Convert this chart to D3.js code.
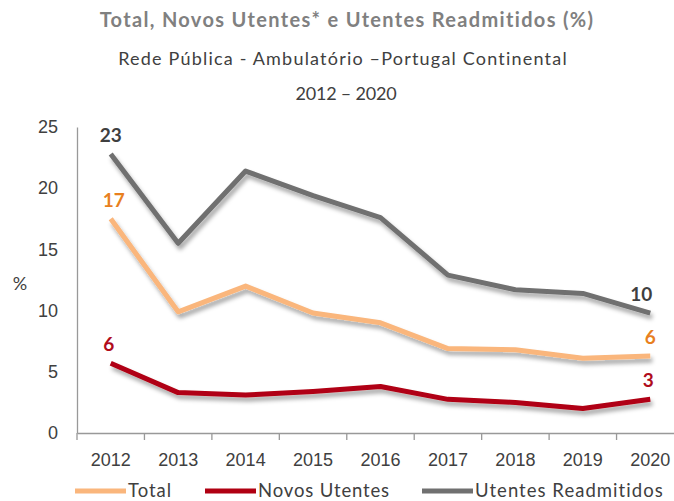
<!DOCTYPE html>
<html><head><meta charset="utf-8">
<script src="https://cdn.jsdelivr.net/npm/d3@7"></script>
<style>
body{margin:0;background:#fff;}
svg{font-family:"Century Gothic","Lato","DejaVu Sans",sans-serif;}
</style></head>
<body>
<svg id="chart" width="674" height="501"></svg>
<script>
const years = ["2012","2013","2014","2015","2016","2017","2018","2019","2020"];
const total = [17.5, 9.9, 12.0, 9.8, 9.0, 6.9, 6.8, 6.1, 6.3];
const novos = [5.7, 3.3, 3.1, 3.4, 3.8, 2.75, 2.5, 2.0, 2.75];
const readmitidos = [22.8, 15.5, 21.4, 19.4, 17.6, 12.9, 11.7, 11.4, 9.8];
const yTicks = [0, 5, 10, 15, 20, 25];
const seriesNames = ["Total", "Novos Utentes", "Utentes Readmitidos"];
const seriesColors = ["#FAB67C", "#B00012", "#707070"];
const labelColors = ["#E8801E", "#B00C1C", "#3F3F3F"];
const startLabels = ["17", "6", "23"];
const endLabels = ["6", "3", "10"];

const svg = d3.select("#chart");
const x = d3.scaleBand().domain(years).range([77, 684]).padding(0);
const y = d3.scaleLinear().domain([0, 25]).range([433, 127]);

// widen text with letter-spacing to reach a target width
function fit(sel, w) {
  const cur = sel.node().getComputedTextLength();
  const n = sel.text().length;
  sel.attr("letter-spacing", ((w - cur) / n).toFixed(2));
  return sel;
}

const defs = svg.append("defs");
const f = defs.append("filter").attr("id","sh").attr("x","-10%").attr("y","-20%").attr("width","130%").attr("height","160%");
f.append("feDropShadow").attr("dx",2).attr("dy",4).attr("stdDeviation",2.2).attr("flood-color","#000").attr("flood-opacity",0.35);

// titles
fit(svg.append("text").attr("x",347).attr("y",27).attr("text-anchor","middle")
  .attr("font-size",20).attr("font-weight","bold").attr("fill","#808080")
  .text("Total, Novos Utentes* e Utentes Readmitidos (%)"), 495);
fit(svg.append("text").attr("x",343).attr("y",65).attr("text-anchor","middle")
  .attr("font-size",18).attr("fill","#404040")
  .text("Rede Pública - Ambulatório –Portugal Continental"), 450);
fit(svg.append("text").attr("x",346).attr("y",100).attr("text-anchor","middle")
  .attr("font-size",18).attr("fill","#404040")
  .text("2012 – 2020"), 101);

// y axis
const yAxis = d3.axisLeft(y).tickValues(yTicks).tickSize(0).tickPadding(19);
const gy = svg.append("g").attr("transform","translate(77,0)").call(yAxis);
gy.select(".domain").attr("stroke","#999").attr("stroke-width",1.3);
gy.selectAll("text").attr("font-size",18).attr("fill","#404040").attr("font-family",null);
svg.append("text").attr("x",20).attr("y",290).attr("text-anchor","middle")
  .attr("font-size",18).attr("fill","#404040").text("%");

// x axis
const gx = svg.append("g").attr("transform","translate(0,433)")
  .call(d3.axisBottom(x).tickSize(0).tickPadding(20));
gx.select(".domain").attr("stroke","#999").attr("stroke-width",1.3);
gx.selectAll("text").attr("font-size",18).attr("fill","#404040").attr("font-family",null);
gx.selectAll("line.bt").data(years.concat(["end"])).enter().append("line").attr("class","bt")
  .attr("x1",(d,i)=>77 + i*x.bandwidth()).attr("x2",(d,i)=>77 + i*x.bandwidth())
  .attr("y1",0).attr("y2",7).attr("stroke","#999").attr("stroke-width",1.3);

// lines
const data = [total, novos, readmitidos];
const line = d3.line().x((d,i)=>x(years[i]) + x.bandwidth()/2).y(d=>y(d));
data.forEach((s, k) => {
  svg.append("path").datum(s).attr("d", line).attr("fill","none")
    .attr("stroke", seriesColors[k]).attr("stroke-width",5)
    .attr("stroke-linejoin","round").attr("filter","url(#sh)");
});

// data labels
data.forEach((s,k)=>{
  const cx0 = x(years[0]) + x.bandwidth()/2;
  const cxn = x(years[years.length-1]) + x.bandwidth()/2;
  svg.append("text").attr("x", cx0 + (k===0?3:(k===1?-2:0))).attr("y", y(s[0]) - 12)
    .attr("text-anchor","middle").attr("font-size",19).attr("font-weight","bold")
    .attr("fill", labelColors[k]).text(startLabels[k]);
  svg.append("text").attr("x", cxn - (k===2?9:(k===1?2:0))).attr("y", y(s[s.length-1]) - 12)
    .attr("text-anchor","middle").attr("font-size",19).attr("font-weight","bold")
    .attr("fill", labelColors[k]).text(endLabels[k]);
});

// legend
const legX = [75, 205, 422];
const legW = [44, 132, 189];
seriesNames.forEach((n,k)=>{
  svg.append("line").attr("x1",legX[k]).attr("x2",legX[k]+51).attr("y1",491).attr("y2",491)
    .attr("stroke",seriesColors[k]).attr("stroke-width",5);
  fit(svg.append("text").attr("x",legX[k]+53).attr("y",497).attr("font-size",18.5)
    .attr("fill","#404040").text(n), legW[k]);
});
</script>
</body></html>
